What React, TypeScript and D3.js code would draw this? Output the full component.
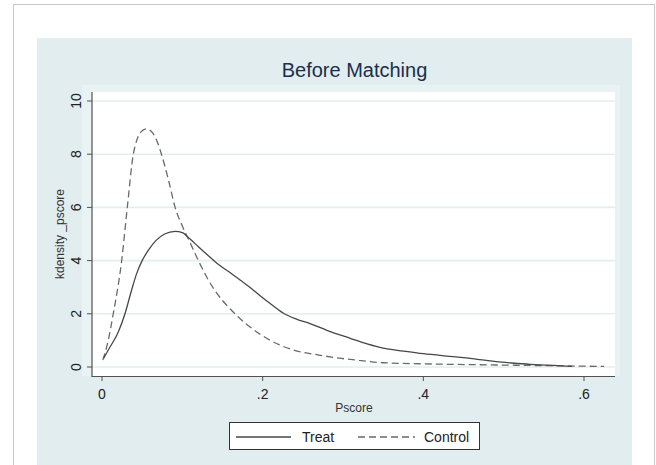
import React from 'react';
import * as d3 from 'd3';

// kernel density estimates
const treatX = [0.002, 0.01, 0.02, 0.0286, 0.036, 0.043, 0.05, 0.058, 0.067, 0.078, 0.091, 0.1, 0.11, 0.12, 0.13, 0.143, 0.158, 0.172, 0.184, 0.2, 0.213, 0.226, 0.242, 0.259, 0.28, 0.309, 0.33, 0.35, 0.375, 0.4, 0.433, 0.45, 0.47, 0.491, 0.51, 0.533, 0.555, 0.574, 0.585];
const treatY = [0.33, 0.75, 1.3, 2.0, 2.8, 3.5, 4.0, 4.4, 4.75, 5.0, 5.1, 5.05, 4.8, 4.52, 4.25, 3.9, 3.58, 3.27, 3.0, 2.6, 2.3, 2.02, 1.8, 1.63, 1.38, 1.08, 0.87, 0.71, 0.6, 0.5, 0.4, 0.35, 0.28, 0.2, 0.15, 0.1, 0.07, 0.04, 0.02];

const controlX = [0.001, 0.007, 0.014, 0.0245, 0.0315, 0.039, 0.043, 0.048, 0.0556, 0.063, 0.069, 0.074, 0.083, 0.091, 0.1, 0.11, 0.12, 0.13, 0.14, 0.15, 0.16, 0.17, 0.188, 0.209, 0.238, 0.27, 0.296, 0.32, 0.35, 0.4, 0.433, 0.48, 0.53, 0.58, 0.625];
const controlY = [0.26, 0.9, 2.0, 4.0, 6.0, 8.0, 8.5, 8.82, 8.95, 8.8, 8.45, 8.0, 7.0, 6.0, 5.3, 4.65, 4.0, 3.4, 2.9, 2.5, 2.17, 1.87, 1.42, 1.01, 0.64, 0.45, 0.33, 0.25, 0.16, 0.12, 0.1, 0.08, 0.06, 0.04, 0.02];

const yTicks = [0, 2, 4, 6, 8, 10];
const xTicks = [0, 0.2, 0.4, 0.6];

const font = 'Arial, "Liberation Sans", sans-serif';

const App = () => {
  const width = 656;
  const height = 465;

  const x = d3.scaleLinear().domain([0, 0.6]).range([102, 584]);
  const y = d3.scaleLinear().domain([0, 10]).range([367, 101]);

  const line = d3
    .line<[number, number]>()
    .x(d => x(d[0]))
    .y(d => y(d[1]))
    .curve(d3.curveMonotoneX);

  const treat = treatX.map((v, i) => [v, treatY[i]] as [number, number]);
  const control = controlX.map((v, i) => [v, controlY[i]] as [number, number]);

  const fmtX = (v: number) => (v === 0 ? '0' : d3.format('.1f')(v).replace(/^0/, ''));

  const axisColor = '#505050';
  const gridColor = '#e3eef0';

  return (
    <svg
      width={width}
      height={height}
      style={{ position: 'absolute', left: 0, top: 0, fontFamily: font }}
    >
      <rect x={0} y={0} width={width} height={height} fill="#fff" />
      {/* outer frame */}
      <rect x={13.5} y={4.5} width={641} height={470} fill="none" stroke="#c9c9c9" />
      {/* graph region */}
      <rect x={37} y={38} width={595} height={440} fill="#e1edef" />
      {/* plot region margin + plot area */}
      <rect x={82} y={85} width={538} height={291} fill="#eaf3f4" />
      <rect x={92} y={92} width={523} height={284} fill="#fff" />

      {/* gridlines */}
      {yTicks.map(t => (
        <line key={'g' + t} x1={92} x2={615} y1={y(t)} y2={y(t)} stroke={gridColor} strokeWidth={1.6} />
      ))}

      {/* curves */}
      <path d={line(control) || ''} fill="none" stroke="#6a6a6a" strokeWidth={1.3} strokeDasharray="7,4" />
      <path d={line(treat) || ''} fill="none" stroke="#474747" strokeWidth={1.3} />

      {/* y axis */}
      <line x1={92} x2={92} y1={92} y2={376.5} stroke={axisColor} strokeWidth={1.2} />
      {yTicks.map(t => (
        <g key={'y' + t}>
          <line x1={87} x2={92} y1={y(t)} y2={y(t)} stroke={axisColor} />
          <text
            transform={`translate(81, ${y(t)}) rotate(-90)`}
            textAnchor="middle"
            fontSize={14}
            fill="#222"
          >
            {t}
          </text>
        </g>
      ))}
      <text
        transform={`translate(64, 234) rotate(-90)`}
        textAnchor="middle"
        fontSize={12}
        fill="#333"
      >
        kdensity _pscore
      </text>

      {/* x axis */}
      <line x1={91.5} x2={615} y1={376.5} y2={376.5} stroke={axisColor} strokeWidth={1.2} />
      {xTicks.map(t => (
        <g key={'x' + t}>
          <line x1={x(t)} x2={x(t)} y1={376} y2={381} stroke={axisColor} />
          <text x={x(t)} y={399} textAnchor="middle" fontSize={14} fill="#222">
            {fmtX(t)}
          </text>
        </g>
      ))}
      <text x={354} y={412} textAnchor="middle" fontSize={12} fill="#333">
        Pscore
      </text>

      {/* title */}
      <text x={354.5} y={77} textAnchor="middle" fontSize={20} fill="#1c2e4c">
        Before Matching
      </text>

      {/* legend */}
      <rect x={229.5} y={422.5} width={250} height={27} fill="#fff" stroke="#333" strokeWidth={1} />
      <line x1={236} x2={291} y1={437} y2={437} stroke="#474747" strokeWidth={1.3} />
      <text x={302} y={442} fontSize={14} fill="#222">
        Treat
      </text>
      <line x1={358} x2={415} y1={437} y2={437} stroke="#6a6a6a" strokeWidth={1.3} strokeDasharray="7,4" />
      <text x={424} y={442} fontSize={14} fill="#222">
        Control
      </text>
    </svg>
  );
};

export default App;
